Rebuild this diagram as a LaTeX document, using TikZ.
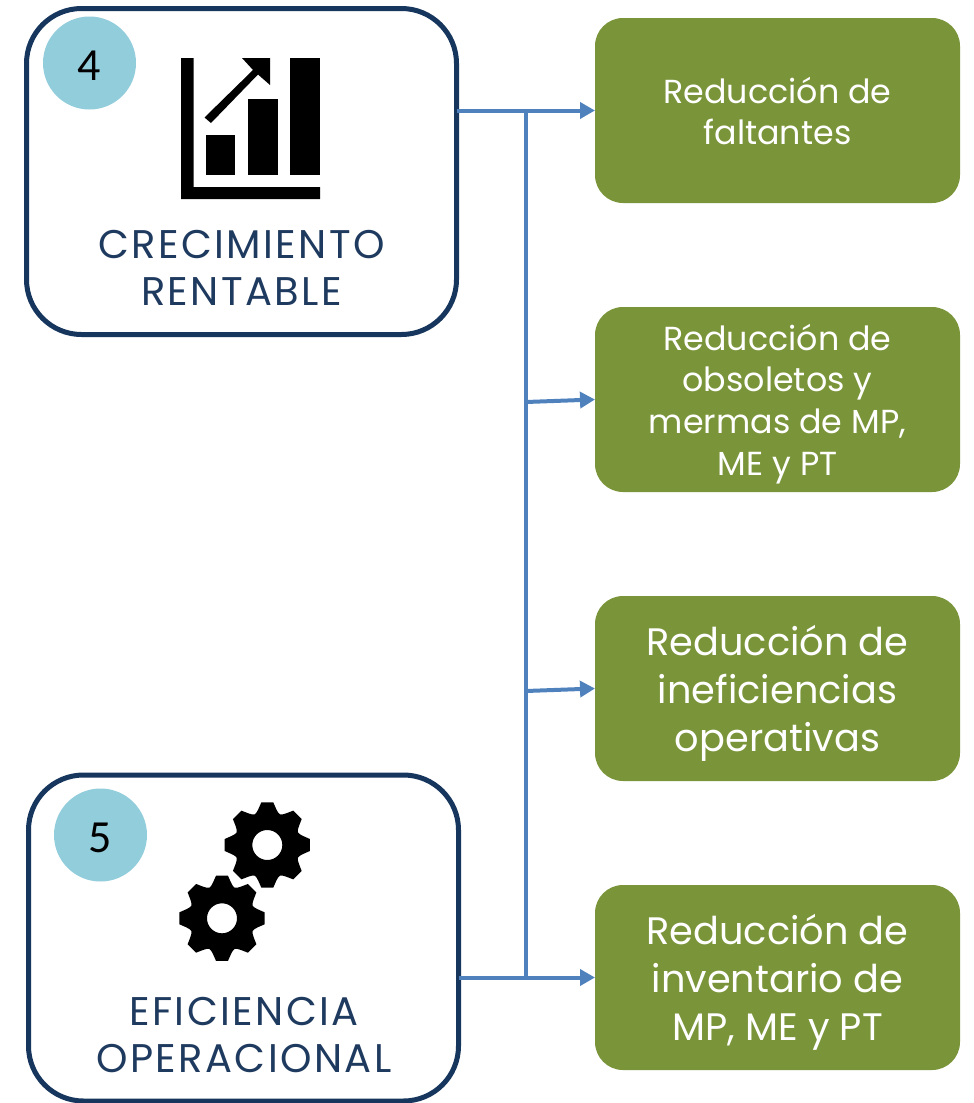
\documentclass[tikz,border=0pt]{standalone}
\usepackage{fontspec}
\setmainfont{Poppins}
\newfontfamily\numfont{Carlito}
\usetikzlibrary{arrows.meta}
\definecolor{navyline}{HTML}{17365D}
\definecolor{navytext}{HTML}{1F3A5F}
\definecolor{greenbox}{HTML}{7A9439}
\definecolor{bluearrow}{HTML}{4F81BD}
\definecolor{numcircle}{HTML}{92CDDC}
\tikzset{
  goalbox/.style={draw=navyline,line width=5pt,fill=white,rounded corners=55pt,minimum width=430pt,minimum height=326pt,inner sep=0pt,outer sep=0pt},
  resultbox/.style={fill=greenbox,rounded corners=28pt,minimum width=365pt,minimum height=185pt,inner sep=0pt,outer sep=0pt},
  resulttext/.style={text=white,align=center,inner sep=0pt},
  smalltext/.style={resulttext,font=\fontsize{33.3}{41.7}\selectfont},
  bigtext/.style={resulttext,font=\fontsize{38.3}{48}\selectfont},
  goaltext/.style={text=navytext,align=center,font=\addfontfeature{LetterSpace=6}\fontsize{40}{47}\selectfont},
  numdot/.style={circle,fill=numcircle,minimum size=93pt,inner sep=0pt},
  numtext/.style={inner sep=0pt,font=\numfont\fontsize{46}{46}\selectfont},
  trunk/.style={draw=bluearrow,line width=4pt},
  link/.style={trunk,-{Triangle[length=15pt,width=16pt]}},
}
\newcommand{\gearicon}[1]{
\fill[even odd rule,shift={(#1)}] (-8:43)
  \foreach \a in {0,45,...,315}{
    -- ({\a-8}:43) -- ({\a+8}:43) -- ({\a+14}:37) .. controls ({\a+22.5}:32) .. ({\a+31}:37)
  } -- cycle (0,0) circle (15);
}
\begin{document}
\begin{tikzpicture}[x=1pt,y=-1pt]
\useasboundingbox (0,0) rectangle (974,1103);
% left boxes
\node[goalbox] (crec) at (241.5,171.5) {};
\node[goalbox] (oper) at (243.5,938) {};
\node[numdot] (dot4) at (89.5,63) {};
\node[numdot] (dot5) at (100.5,835) {};
\node[numtext] (num4) at (89.5,66) {4};
\node[numtext] (num5) at (100.5,838) {5};
\node[goaltext] (crectext) at (241.5,268) {CRECIMIENTO\\RENTABLE};
\node[goaltext] (opertext) at (244,1035) {EFICIENCIA\\OPERACIONAL};
% chart icon
\fill (181,58) -- (193.5,58) -- (193.5,187) -- (320,187) -- (320,199) -- (181,199) -- cycle;
\fill (205.5,134.5) rectangle (235,175);
\fill (248,98.5) rectangle (278,175);
\fill (290,58) rectangle (320,175);
\fill (242,58) -- (270,58) -- (270,85) -- (258,74.5) -- (211,123) -- (204.5,117.5) -- (253,70) -- cycle;
% gears
\gearicon{267.3,845}
\gearicon{222,918.3}
% right boxes
\node[resultbox] (red1) at (777.5,110.5) {};
\node[resultbox] (red2) at (777.5,399.5) {};
\node[resultbox] (red3) at (777.5,688.5) {};
\node[resultbox] (red4) at (777.5,977.5) {};
\node[smalltext] (red1text) at (777.5,111) {Reducción de\\faltantes};
\node[smalltext] (red2text) at (777.5,404) {Reducción de\\obsoletos y\\mermas de MP,\\ME y PT};
\node[bigtext] (red3text) at (777.5,693) {Reducción de\\ineficiencias\\operativas};
\node[bigtext] (red4text) at (777.5,982) {Reducción de\\inventario de\\MP, ME y PT};
% connectors
\coordinate (jtop) at (526,112);
\coordinate (j2) at (526,402);
\coordinate (j3) at (526,691);
\coordinate (jbot) at (526,977.5);
\draw[trunk] (jtop) -- (jbot);
\draw[link] (crec.east |- red1.west) -- (red1.west);
\draw[link] (j2) -- (red2.west);
\draw[link] (j3) -- (red3.west);
\draw[link] (oper.east |- red4.west) -- (red4.west);
\end{tikzpicture}
\end{document}
